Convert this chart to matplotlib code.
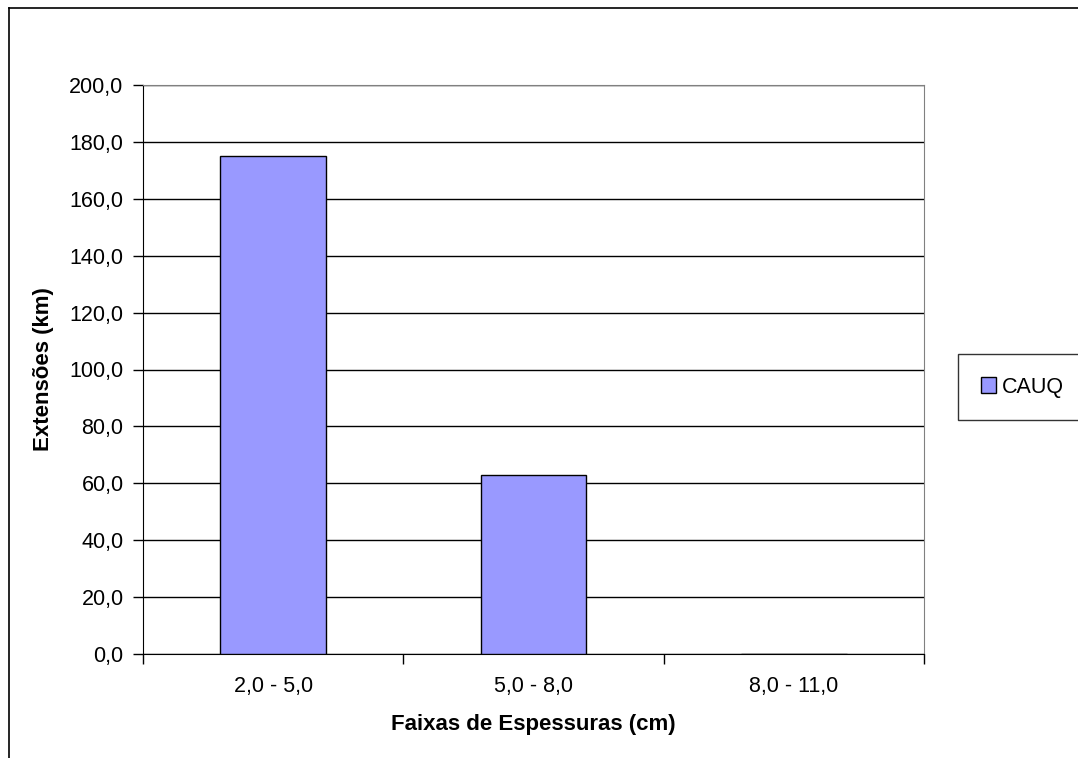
import numpy as np
import matplotlib
matplotlib.use('Agg')
import matplotlib.pyplot as plt

plt.rcParams['font.family'] = ['Liberation Sans', 'DejaVu Sans']

categorias = ['2,0 - 5,0', '5,0 - 8,0', '8,0 - 11,0']
extensoes = [175.0, 62.8, 0.0]
serie = 'CAUQ'

W, H = 1078, 758
fig = plt.figure(figsize=(W/100, H/100), dpi=100)

# borda externa (so esquerda e topo visiveis no recorte)
fig.add_artist(plt.Line2D([9/W, 9/W], [0, 1-8/H], color='black', lw=1.2, transform=fig.transFigure))
fig.add_artist(plt.Line2D([9/W, 1], [1-8/H, 1-8/H], color='black', lw=1.2, transform=fig.transFigure))

x0, x1, y0, y1 = 143, 924, 85, 654
ax = fig.add_axes([x0/W, 1-y1/H, (x1-x0)/W, (y1-y0)/H])

x = np.arange(len(categorias))
bars = ax.bar(x, extensoes, width=0.405, color='#9999ff', edgecolor='black', lw=1.0, zorder=3, label=serie)

ax.set_xlim(-0.5, 2.5)
ax.set_ylim(0, 200)
yt = np.arange(0, 201, 20)
ax.set_yticks(yt)
ax.set_yticklabels([('%.1f' % v).replace('.', ',') for v in yt], fontsize=15.5)
ax.yaxis.grid(True, color='black', lw=1.0, zorder=0)

ax.set_xticks(x)
ax.set_xticklabels(categorias, fontsize=15.5)
ax.tick_params(axis='x', length=0, pad=16)
ax.set_xticks([-0.5, 0.5, 1.5, 2.5], minor=True)
ax.tick_params(axis='x', which='minor', length=7, width=1, direction='out')
ax.tick_params(axis='y', length=7, width=1, direction='out', pad=7)

for s in ['top', 'right']:
    ax.spines[s].set_color('#808080')
ax.spines['left'].set_color('black')
ax.spines['bottom'].set_color('black')

ax.set_xlabel('Faixas de Espessuras (cm)', fontsize=16, fontweight='bold', labelpad=12)
ax.set_ylabel('Extensões (km)', fontsize=16, fontweight='bold', labelpad=11)

leg = fig.legend(handles=[bars], labels=[serie], loc='center left',
                 bbox_to_anchor=(958/W, 1-387/H), fontsize=15.5, frameon=True,
                 fancybox=False, edgecolor='black', handlelength=0.7, handleheight=0.7,
                 handletextpad=0.3, borderpad=1.05, borderaxespad=0)
leg.get_frame().set_linewidth(1.0)

fig.savefig('out.png', dpi=100)
